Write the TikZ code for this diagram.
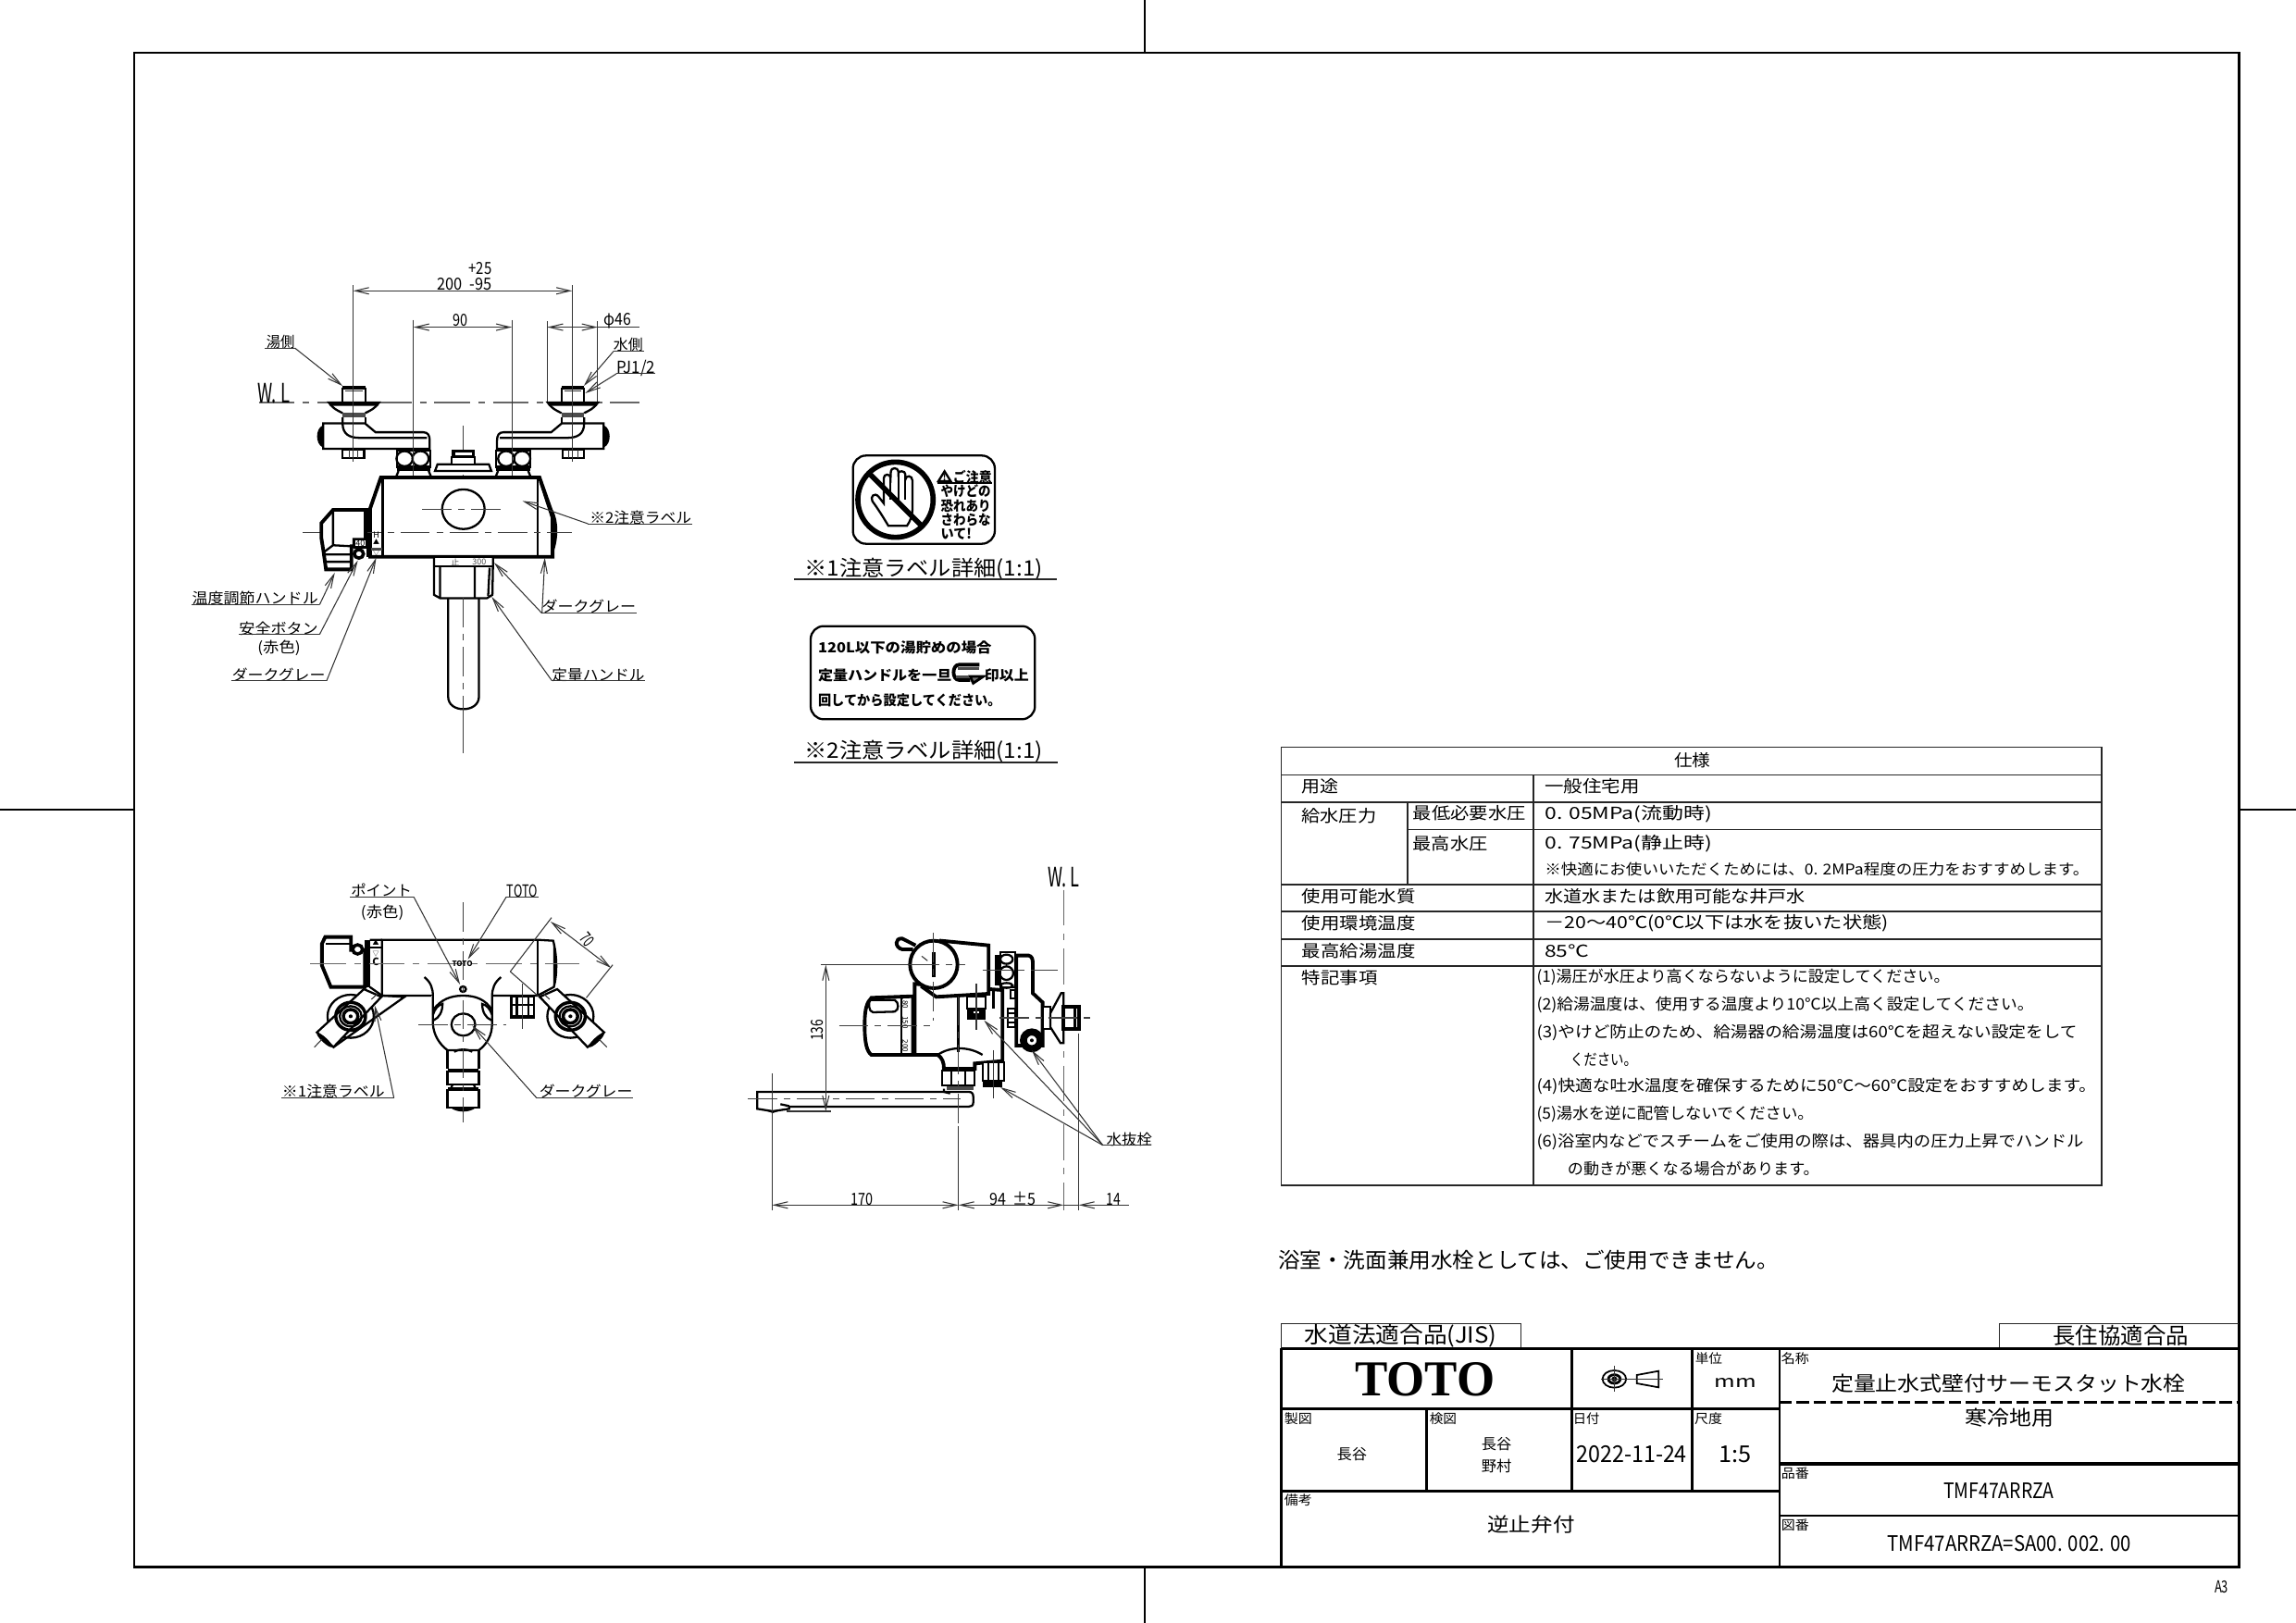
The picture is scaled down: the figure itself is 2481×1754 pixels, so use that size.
\documentclass[tikz,border=0pt]{standalone}
\usepackage{fontspec}
\usepackage{graphicx}
\setmainfont{Noto Sans CJK JP}
\newfontfamily\serifb{Liberation Serif}
\usetikzlibrary{arrows.meta}
\newlength\pxu \setlength\pxu{0.01cm}
\newcounter{tn}
\def\zs{1}
\def\zy{-1.2}
\newcommand\Z[5]{\stepcounter{tn}\pgfmathsetmacro\zw{(#2-#1)*\zs}\node[name=t\arabic{tn},anchor=west,inner sep=0pt,outer sep=0pt,yshift=\zy\pxu] at (#1,#3) {\resizebox{\zw\pxu}{\height}{\fontsize{#4\pxu}{#4\pxu}\selectfont\rule[-.12em]{0pt}{1em}#5}};}
\tikzset{
 thinl/.style={line width=.3pt,black!80},
 outl/.style={line width=.65pt,black},
 heavy/.style={line width=1.1pt,black},
 centl/.style={line width=.3pt,black!75,dash pattern=on 9pt off 2pt on 2pt off 2pt},
 wlin/.style={line width=.45pt,black!60,dash pattern=on 11pt off 2.5pt on 2pt off 2.5pt},
 frm/.style={line width=.85pt,black},
 tb/.style={line width=.4pt,black!85},
 >={Straight Barb[length=4.2pt,width=2pt]}
}
\newcommand\ArmA{%
 \draw[outl,fill=white] (442,553) -- (560,553) -- (590,580) -- (725,580) .. controls (738,580) and (743,590) .. (743,605) -- (743,630) -- (442,630) -- cycle;
 \draw[outl] (497,535) -- (497,553) .. controls (497,585) and (515,597) .. (545,597) -- (735,597);
 \fill (440,560) .. controls (420,570) and (420,615) .. (440,625) -- cycle;
 \draw[outl] (497,632) rectangle (558,658);
 \draw[thinl] (515,632) -- (515,658) (540,632) -- (540,658);
 \draw[outl,fill=black!45] (458,490) -- (600,490) -- (595,497) -- (463,497) -- cycle;
 \draw[outl] (463,497) .. controls (475,510) .. (497,522) (595,497) .. controls (583,510) .. (561,522);
 \fill[black!70] (497,520) rectangle (561,534);
 \draw[outl] (561,535) -- (561,553);
 \draw[outl] (497,490) -- (497,446) (561,490) -- (561,446);
 \draw[heavy] (497,445) -- (561,445);
 \draw[thinl] (505,456) -- (553,456);
 \draw[outl,fill=white] (650,635) rectangle (745,685);
 \draw[outl] (672,660) circle [x radius=23,y radius=23] (717,660) circle [x radius=23,y radius=23];
 \fill (650,685) rectangle (745,697);
 \draw[outl] (655,697) -- (648,715) (740,697) -- (747,715);
}
\newcommand\ArmB{%
 \draw[outl] (557,535) circle [radius=70];
 \draw[outl,fill=white] (597,447) -- (650,472) -- (505,635) -- (455,587) -- cycle;
 \draw[line width=1pt] (557,535) circle [radius=45];
 \draw[outl] (557,535) circle [radius=33];
 \draw[line width=1pt] (557,535) circle [radius=22];
 \fill (557,535) circle [radius=6];
 \fill[rotate around={-45:(478,612)}] (478,612) ellipse [x radius=32,y radius=8];
 \draw[thinl] (447,635) -- (470,610) (620,480) -- (640,460);
}
\begin{document}
\begin{tikzpicture}[x=0.01cm,y=-0.01cm]
\useasboundingbox (0,0) rectangle (2481,1754);
\fill[white] (0,0) rectangle (2481,1754);
% frame
\draw[frm] (145,57) rectangle (2419,1693.5);
\draw[outl] (1237,0) -- (1237,57) (1237,1693.5) -- (1237,1754) (0,875) -- (145,875) (2419,875) -- (2481,875);
\Z{2393}{2408}{1713}{18}{A3}
% ---------- front view
\begin{scope}[shift={(180,260)},xscale=.3827,yscale=.3571]
\def\zs{.3827}
\draw[centl] (838,560) -- (838,1550);
\draw[wlin] (260,490) -- (1335,490);
\draw[thinl] (697,240) -- (697,745) (975,240) -- (975,745);
\draw[thinl] (1075,245) -- (1075,490) (1217,245) -- (1217,490);
\ArmA
\begin{scope}[shift={(1676,0)},xscale=-1]\ArmA\end{scope}
\draw[thinl] (527,135) -- (527,670) (1145,135) -- (1145,670) (697,560) -- (697,745) (975,560) -- (975,745);
\draw[<->,thinl] (527,152) -- (1145,152);
\draw[<->,thinl] (697,262) -- (975,262);
\draw[<->,thinl] (1075,262) -- (1217,262);
\draw[thinl] (1217,262) -- (1335,262);
\Z{853}{918}{80}{18}{+25}
\Z{765}{918}{128}{18}{200 \ -95}
\Z{808}{850}{237}{18}{90}
\Z{1235}{1312}{237}{18}{φ46}
\Z{282}{362}{303}{16}{湯側}
\draw[thinl] (278,325) -- (362,325);\draw[->,thinl] (362,325) -- (497,440);
\Z{1262}{1345}{312}{16}{水側}
\draw[thinl] (1262,335) -- (1347,335);\draw[->,thinl] (1262,335) -- (1178,440);
\Z{1270}{1380}{380}{18}{PJ1/2}
\draw[thinl] (1270,403) -- (1380,403);\draw[->,thinl] (1270,403) -- (1182,462);
\Z{257}{348}{457}{29}{W.\ L}
% top boss
\draw[outl,fill=white] (758,697) -- (765,677) -- (910,677) -- (917,697) -- cycle;
\draw[outl,fill=white] (805,655) rectangle (870,677);
\draw[line width=.9pt,fill=white] (810,637) rectangle (866,655);
% body
\draw[heavy,fill=white] (605,717) -- (1053,717) -- (1090,830) -- (1090,957) -- (575,957) -- (575,810) -- cycle;
\draw[outl] (610,717) -- (610,957) (1048,717) -- (1048,957);
\draw[outl] (1055,730) -- (1088,840) (600,730) -- (575,810);
\fill (1090,815) .. controls (1105,840) and (1110,900) .. (1090,950) -- cycle;
\draw[outl] (838,813) circle [radius=60];
\fill (565,810) rectangle (575,957);
\draw[centl] (722,813) -- (950,813);
\draw[centl] (385,883) -- (1145,883);
\fill[black!70] (577,930) rectangle (610,937);
\node[name=hmark,inner sep=0pt,font=\fontsize{9\pxu}{9\pxu}\selectfont] at (592,892) {H};
\node[name=hm2,inner sep=0pt,font=\fontsize{7\pxu}{7\pxu}\selectfont] at (592,912) {▲};
\node[name=hm3,inner sep=0pt,font=\fontsize{7\pxu}{7\pxu}\selectfont] at (592,948) {▽};
% temp handle
\draw[heavy,fill=white] (470,815) -- (562,815) -- (562,905) -- (530,905) -- (530,925) -- (522,925) -- (522,995) -- (450,995) -- (443,940) -- (437,900) -- (437,855) -- cycle;
\draw[outl] (470,815) -- (470,922) -- (445,942) (470,922) -- (522,925) (447,950) -- (522,950) (449,972) -- (522,972);
\draw[outl,fill=white] (530,905) rectangle (565,928);
\node[name=h40,inner sep=0pt,font=\fontsize{9\pxu}{9\pxu}\selectfont] at (547,916) {40};
\draw[line width=1pt,fill=white] (543,948) circle [radius=13];
% handle
\draw[outl,fill=white] (795,1080) -- (795,1380) .. controls (795,1405) and (815,1418) .. (838,1418) .. controls (861,1418) and (882,1405) .. (882,1380) -- (882,1080) -- cycle;
\draw[outl,fill=white] (755,957) -- (755,1072) -- (772,1082) -- (905,1082) -- (920,1072) -- (922,957) -- cycle;
\draw[outl] (752,985) -- (925,985);
\draw[outl] (772,985) -- (772,1082) (870,985) -- (870,1082) (912,990) -- (908,1075);
\node[name=h5,inner sep=0pt,font=\fontsize{9\pxu}{9\pxu}\selectfont,black!70] at (815,973) {止};
\node[name=h6,inner sep=0pt,font=\fontsize{9\pxu}{9\pxu}\selectfont,black!70] at (883,973) {300};
\draw[centl] (838,1082) -- (838,1550);
% labels
\Z{1195}{1482}{836}{16}{※2注意ラベル}
\draw[thinl] (1190,857) -- (1485,857);\draw[->,thinl] (1190,857) -- (1005,788);
\Z{1060}{1325}{1105}{16}{ダークグレー}
\draw[thinl] (1060,1128) -- (1328,1128);\draw[->,thinl] (1060,1128) -- (925,975);\draw[->,thinl] (1060,1128) -- (1068,960);
\Z{1088}{1350}{1312}{16}{定量ハンドル}
\draw[thinl] (1088,1332) -- (1352,1332);\draw[->,thinl] (1088,1332) -- (918,1078);
\Z{72}{428}{1080}{16}{温度調節ハンドル}
\draw[thinl] (70,1102) -- (432,1102);\draw[->,thinl] (432,1102) -- (475,1005);
\Z{205}{428}{1170}{16}{安全ボタン}
\draw[thinl] (205,1192) -- (432,1192);\draw[->,thinl] (432,1192) -- (540,968);
\Z{257}{378}{1230}{16}{(赤色)}
\Z{185}{448}{1310}{16}{ダークグレー}
\draw[thinl] (182,1332) -- (452,1332);\draw[->,thinl] (452,1332) -- (592,960);
\end{scope}
% ---------- bottom view
\begin{scope}[shift={(180,920)},xscale=.3571,yscale=.3333]
\def\zs{.3571}
\ArmB
\begin{scope}[shift={(1779,0)},xscale=-1]\ArmB\end{scope}
% body
\draw[outl,fill=white] (652,287) -- (1122,287) -- (1170,290) .. controls (1182,340) and (1182,400) .. (1172,440) -- (1122,468) -- (985,468) -- (800,468) -- (652,468) -- cycle;
\draw[outl] (1122,287) -- (1122,468);
\fill (1170,295) .. controls (1182,340) and (1182,400) .. (1170,440) -- cycle;
\draw[outl] (615,287) -- (652,287) (615,440) -- (652,468);
\draw[outl] (652,468) -- (720,472) -- (505,635);
\fill (600,287) rectangle (615,440);
\draw[outl] (617,313) -- (652,313);
\node[name=bvc,inner sep=0pt,font=\bfseries\fontsize{11\pxu}{11\pxu}\selectfont] at (633,357) {C};
\node[name=bva,inner sep=0pt,font=\fontsize{7\pxu}{7\pxu}\selectfont] at (633,295) {▲};
\node[name=bvb,inner sep=0pt,font=\fontsize{7\pxu}{7\pxu}\selectfont] at (633,332) {▽};
% handle
\draw[heavy,fill=white] (480,278) -- (558,278) -- (558,320) -- (600,320) -- (600,440) -- (497,440) -- (470,370) -- (470,300) -- cycle;
\draw[outl] (483,300) -- (556,300);
\draw[line width=1pt,fill=white] (578,318) circle [radius=15];
% centre casting
\fill[white] (800,468) rectangle (985,520);
\draw[outl,fill=white] (780,408) .. controls (800,425) and (806,445) .. (806,470) -- (806,560) .. controls (808,595) and (825,625) .. (850,645) -- (945,645) .. controls (970,625) and (985,595) .. (985,560) -- (985,470) .. controls (985,445) and (992,425) .. (1012,408);
\draw[outl] (806,515) .. controls (830,480) and (860,468) .. (897,468) .. controls (935,468) and (965,480) .. (985,515);
\draw[outl] (806,530) .. controls (812,510) and (822,498) .. (835,495) .. controls (835,520) and (825,540) .. (808,548);
\draw[outl] (985,530) .. controls (978,510) and (968,498) .. (955,495) .. controls (955,520) and (965,540) .. (983,548);
\draw[outl] (870,650) .. controls (885,640) and (910,640) .. (925,650);
\draw[outl] (898,562) circle [radius=36];
\draw[outl,fill=white] (897,447) circle [radius=9];
\draw[outl] (850,645) -- (850,705) (945,645) -- (945,705);
\fill (850,705) rectangle (945,713);
\draw[outl,fill=white] (850,713) rectangle (945,757);
\draw[outl] (865,757) -- (860,770) (930,757) -- (935,770);
\draw[heavy] (852,770) -- (943,770);
\draw[outl,fill=white] (850,775) rectangle (945,832);
\fill (860,832) .. controls (880,848) and (915,848) .. (935,832) -- cycle;
% nut
\draw[outl,fill=white] (1043,472) rectangle (1112,540);
\fill (1043,530) rectangle (1112,540);
\draw[outl] (1060,472) -- (1060,530) (1095,472) -- (1095,530) (1043,498) -- (1112,498);
\draw[outl] (985,468) -- (1122,468);
\draw[centl] (898,165) -- (898,880);
\draw[wlin] (435,365) -- (1250,365);
\draw[centl] (762,562) -- (1028,562);
\draw[thinl] (1076,430) -- (1076,575);
\draw[thinl] (1040,390) -- (1125,470);
\node[name=ttoto,inner sep=0pt,font=\bfseries\fontsize{8\pxu}{8\pxu}\selectfont] at (895,366) {TOTO};
\Z{558}{742}{125}{16}{ポイント}
\draw[thinl] (555,148) -- (748,148);\draw[->,thinl] (748,148) -- (888,432);
\Z{588}{718}{193}{16}{(赤色)}
\Z{1030}{1122}{125}{18}{TOTO}
\draw[thinl] (1028,148) -- (1125,148);\draw[->,thinl] (1028,148) -- (912,350);
\draw[<->,thinl] (1162,228) -- (1345,378);
\draw[thinl] (1165,215) -- (1040,390) (1350,368) -- (1270,475);
\stepcounter{tn}\node[name=t\arabic{tn},rotate=-50,inner sep=0pt,font=\fontsize{18\pxu}{18\pxu}\selectfont] at (1272,287) {\resizebox{13\pxu}{\height}{70}};
\Z{350}{660}{775}{16}{※1注意ラベル}
\draw[thinl] (348,800) -- (688,800);\draw[->,thinl] (688,800) -- (630,500);
\Z{1128}{1410}{775}{16}{ダークグレー}
\draw[thinl] (1120,800) -- (1410,800);\draw[->,thinl] (1120,800) -- (925,565);
\end{scope}
% ---------- side view
\begin{scope}[shift={(790,920)},xscale=.3333,yscale=.3333]
\def\zs{.3333}
\Z{1027}{1130}{78}{29}{W.\ L}
\draw[wlin] (1078,125) -- (1078,1165);
% spout
\draw[outl,fill=white] (85,780) -- (770,780) .. controls (780,780) and (785,785) .. (785,795) -- (785,815) .. controls (785,825) and (778,828) .. (770,828) -- (188,828) -- (188,835) -- (135,843) -- (85,835) -- cycle;
\draw[outl] (160,820) -- (188,826);
\fill (110,840) -- (160,840) -- (135,849) -- cycle;
\draw[outl] (690,770) -- (690,780) -- (710,785);
\fill[black!70] (700,760) rectangle (785,775);
\draw[outl,fill=white] (683,712) rectangle (790,760);
\fill (683,705) rectangle (790,712);
\draw[outl] (715,712) -- (715,760) (760,712) -- (760,760);
% body
\draw[heavy,fill=white] (595,430) -- (595,660) -- (670,660) .. controls (685,670) and (690,685) .. (690,705) -- (790,705) -- (790,688) -- (880,680) -- (880,450) -- cycle;
\draw[outl] (670,660) .. controls (710,632) and (770,632) .. (815,660);
\draw[line width=.9pt] (737,470) -- (737,650);
\draw[line width=.9pt] (850,450) -- (850,510);
% handle upper
\draw[heavy,fill=white] (680,290) -- (835,305) -- (835,462) -- (665,472) -- (620,440) -- cycle;
\draw[heavy,fill=white] (657,367) circle [radius=77];
\fill (652,328) rectangle (662,408);
\draw[thinl] (618,340) -- (637,355);
\draw[heavy,fill=white] (590,318) -- (555,318) .. controls (530,312) and (530,280) .. (555,283) -- (598,305);
% temperature handle
\draw[heavy,fill=white] (590,470) -- (455,475) .. controls (440,490) and (433,510) .. (433,565) .. controls (433,620) and (440,650) .. (455,660) -- (590,660) -- cycle;
\draw[outl] (450,482) -- (530,482) .. controls (545,490) and (545,515) .. (530,520) -- (460,522) .. controls (445,520) and (445,490) .. (450,482);
\draw[outl] (552,470) -- (552,660);
\foreach \yy in {470,490,...,650} {\fill (585,\yy) rectangle (595,\yy+10);}
\node[name=s1,rotate=-90,inner sep=0pt,font=\fontsize{8\pxu}{8\pxu}\selectfont] at (565,490) {180};
\node[name=s2,rotate=-90,inner sep=0pt,font=\fontsize{8\pxu}{8\pxu}\selectfont] at (565,555) {150};
\node[name=s3,rotate=-90,inner sep=0pt,font=\fontsize{8\pxu}{8\pxu}\selectfont] at (565,632) {200};
% right connector
\fill (855,335) rectangle (870,435);
\draw[outl,fill=white] (872,328) rectangle (920,442);
\draw[outl] (893,350) ellipse [x radius=20,y radius=15];
\draw[outl] (893,395) circle [radius=22];
\draw[outl] (893,435) ellipse [x radius=20,y radius=8];
\draw[outl,fill=white] (905,450) rectangle (920,478);
\draw[heavy,fill=white] (925,338) -- (965,338) .. controls (975,340) and (978,350) .. (978,360) -- (978,460) -- (1010,490) -- (1010,630) -- (925,630) -- cycle;
\draw[outl,fill=white] (897,510) rectangle (920,570);
\draw[outl] (897,525) -- (920,525) (897,555) -- (920,555);
\draw[outl,fill=white] (1010,505) rectangle (1035,575);
\draw[outl,fill=white] (1035,525) -- (1070,460) -- (1078,460) -- (1078,622) -- (1068,622) -- (1035,570) -- cycle;
\draw[heavy,fill=white] (1078,505) rectangle (1128,575);
\draw[outl] (1115,505) -- (1115,575);
\draw[heavy,fill=white] (975,613) circle [radius=33];
\draw[line width=1.2pt] (975,613) circle [radius=22];
\fill (975,613) circle [radius=6];
% drains
\draw[outl,fill=white] (765,470) rectangle (825,510);
\fill (765,510) rectangle (825,545);
\draw[white,line width=.6pt] (785,522) -- (805,522);
\draw[outl,fill=white] (815,685) rectangle (885,745);
\draw[outl] (835,685) -- (835,745) (868,685) -- (868,745);
\fill (817,745) rectangle (880,765);
% center lines
\draw[centl] (55,802) -- (745,802);
\draw[centl] (737,470) -- (737,890);
\draw[centl] (350,565) -- (665,565);
\draw[centl] (870,540) -- (1165,540);
\draw[centl] (815,385) -- (1060,385);
\draw[centl] (580,368) -- (760,368);
\draw[centl] (655,265) -- (655,550);
\draw[thinl] (795,430) -- (795,580) (850,645) -- (850,800);
% dims
\draw[thinl] (133,720) -- (133,1165) (737,890) -- (737,1165) (1127,590) -- (1127,1165);
\draw[thinl] (290,368) -- (580,368) (180,843) -- (325,843);
\draw[<->,thinl] (133,1147) -- (737,1147);
\draw[<->,thinl] (737,1147) -- (1078,1147);
\draw[thinl] (1078,1147) -- (1127,1147);
\draw[->,thinl] (1290,1147) -- (1127,1147);
\draw[<->,thinl] (307,368) -- (307,843);
\Z{388}{460}{1122}{18}{170}
\Z{838}{988}{1122}{18}{94 \ ±5}
\Z{1217}{1263}{1122}{18}{14}
\stepcounter{tn}\node[name=t\arabic{tn},rotate=90,inner sep=0pt,font=\fontsize{18\pxu}{18\pxu}\selectfont] at (280,580) {\resizebox{23\pxu}{\height}{136}};
\Z{1217}{1365}{932}{16}{水抜栓}
\draw[thinl] (1205,953) -- (1362,953);
\draw[->,thinl] (1205,953) -- (820,548);
\draw[->,thinl] (1205,953) -- (975,645);
\draw[->,thinl] (1205,953) -- (873,765);
\end{scope}
% ---------- labels
\begin{scope}[shift={(840,470)},xscale=.3333,yscale=.3333]
\def\zs{.3333}
\draw[outl,rounded corners=4pt] (245,67) rectangle (705,353);
\draw[outl,fill=white] (360,295) .. controls (345,270) and (330,245) .. (308,215) .. controls (300,200) and (315,185) .. (328,200) -- (345,222) -- (345,140) .. controls (345,125) and (367,125) .. (367,140) -- (368,118) .. controls (368,105) and (392,105) .. (392,118) -- (392,125) .. controls (392,115) and (415,115) .. (415,128) -- (415,145) .. controls (415,130) and (438,130) .. (438,148) -- (438,235) .. controls (438,265) and (430,280) .. (420,295) -- cycle;
\draw[outl] (367,140) -- (367,210) (392,125) -- (392,210) (415,145) -- (415,210);
\draw[line width=1.6pt] (383,210) circle [radius=122];
\draw[line width=1.6pt] (297,124) -- (469,296);
\draw[outl] (518,157) -- (697,157);
\draw[outl] (522,150) -- (542,118) -- (562,150) -- cycle;
\node[name=ex,inner sep=0pt,font=\bfseries\fontsize{9\pxu}{9\pxu}\selectfont] at (542,138) {!};
\Z{570}{695}{135}{15}{\bfseries ご注意}
\Z{530}{692}{180}{15}{\bfseries やけどの}
\Z{530}{692}{226}{15}{\bfseries 恐れあり}
\Z{530}{692}{272}{15}{\bfseries さわらな}
\Z{530}{630}{318}{15}{\bfseries いて!}
\Z{88}{860}{430}{23}{※1注意ラベル詳細(1:1)}
\draw[tb] (55,468) -- (905,468);
\draw[outl,rounded corners=4pt] (108,620) rectangle (835,922);
\Z{132}{695}{685}{15}{\bfseries 120L以下の湯貯めの場合}
\Z{132}{565}{775}{15}{\bfseries 定量ハンドルを一旦}
\draw[line width=1.1pt] (655,745) -- (590,745) .. controls (565,745) and (565,795) .. (590,795) -- (625,795);
\draw[line width=.8pt,fill=black!55] (625,783) -- (668,783) -- (635,805) -- cycle;
\draw[line width=.8pt,black!70] (585,757) -- (655,757) (580,785) -- (620,785);
\Z{672}{815}{775}{15}{\bfseries 印以上}
\Z{132}{725}{858}{15}{\bfseries 回してから設定してください。}
\Z{88}{860}{1022}{23}{※2注意ラベル詳細(1:1)}
\draw[tb] (55,1062) -- (908,1062);
\end{scope}
% ---------- spec table
\begin{scope}[shift={(1370,801.5)},xscale=.5869,yscale=.3333]
\def\zs{.5869}
\def\zy{3.5}
\draw[tb] (25,18) rectangle (1535,1438);
\draw[tb] (25,108) -- (1535,108) (25,196) -- (1535,196) (257,285) -- (1535,285) (25,463) -- (1535,463) (25,550) -- (1535,550) (25,640) -- (1535,640) (25,728) -- (1535,728);
\draw[tb] (489,108) -- (489,1438) (257,196) -- (257,463);
\Z{748}{815}{72}{18}{仕様}
\Z{62}{130}{155}{18}{用途}
\Z{510}{684}{155}{18}{一般住宅用}
\Z{62}{200}{250}{18}{給水圧力}
\Z{267}{475}{243}{18}{最低必要水圧}
\Z{510}{818}{243}{18}{0. 05MPa(流動時)}
\Z{267}{405}{340}{18}{最高水圧}
\Z{510}{818}{340}{18}{0. 75MPa(静止時)}
\Z{510}{1512}{423}{16}{※快適にお使いいただくためには、0. 2MPa程度の圧力をおすすめします。}
\Z{63}{272}{512}{18}{使用可能水質}
\Z{510}{990}{512}{18}{水道水または飲用可能な井戸水}
\Z{63}{272}{600}{18}{使用環境温度}
\Z{510}{1143}{598}{18}{－20～40℃(0℃以下は水を抜いた状態)}
\Z{63}{272}{688}{18}{最高給湯温度}
\Z{510}{592}{688}{18}{85℃}
\Z{63}{202}{775}{18}{特記事項}
\Z{495}{1255}{772}{17}{(1)湯圧が水圧より高くならないように設定してください。}
\Z{495}{1410}{862}{17}{(2)給湯温度は、使用する温度より10℃以上高く設定してください。}
\Z{495}{1490}{953}{17}{(3)やけど防止のため、給湯器の給湯温度は60℃を超えない設定をして}
\Z{557}{680}{1042}{17}{ください。}
\Z{495}{1525}{1128}{17}{(4)快適な吐水温度を確保するために50℃～60℃設定をおすすめします。}
\Z{495}{1005}{1218}{17}{(5)湯水を逆に配管しないでください。}
\Z{495}{1502}{1308}{17}{(6)浴室内などでスチームをご使用の際は、器具内の圧力上昇でハンドル}
\Z{552}{1015}{1395}{17}{の動きが悪くなる場合があります。}
\end{scope}
\Z{1381}{1922}{1361}{23}{浴室・洗面兼用水栓としては、ご使用できません。}
% ---------- title block
\begin{scope}[shift={(1370,1421)},xscale=.6378,yscale=.3333]
\def\zs{.6378}
\def\zy{1.5}
\draw[tb] (23,108) -- (23,29) -- (429,29) -- (429,108);
\draw[tb] (1239,108) -- (1239,29) -- (1645,29);
\draw[frm] (23,108) -- (1645,108);
\draw[frm] (23,108) -- (23,815);
\draw[frm] (23,304) -- (867,304) (23,571) -- (867,571);
\draw[outl] (269,304) -- (269,571) (515,108) -- (515,571) (719,108) -- (719,571) (867,108) -- (867,815);
\draw[line width=.75pt,dash pattern=on 3.8pt off 1.4pt] (867,283) -- (1645,283);
\draw[line width=1.1pt] (867,482) -- (1645,482);
\draw[outl] (867,650) -- (1645,650);
\Z{62}{388}{70}{24}{水道法適合品(JIS)}
\Z{1330}{1560}{72}{24}{長住協適合品}
\stepcounter{tn}\node[name=t\arabic{tn},inner sep=0pt] at (266,210) {\resizebox{151\pxu}{36\pxu}{\serifb\bfseries TOTO}};
\draw[line width=.5pt] (587,208) ellipse [x radius=20,y radius=28];
\draw[line width=.8pt] (587,208) ellipse [x radius=10,y radius=14];
\fill (587,208) ellipse [x radius=5,y radius=8];
\draw[line width=.5pt] (625,195) -- (662,182) -- (662,235) -- (625,222) -- cycle;
\draw[thinl] (587,165) -- (587,250) (565,208) -- (670,208);
\Z{724}{770}{145}{14}{単位}
\Z{870}{917}{145}{14}{名称}
\Z{28}{75}{340}{14}{製図}
\Z{274}{320}{340}{14}{検図}
\Z{517}{562}{340}{14}{日付}
\Z{723}{770}{340}{14}{尺度}
\Z{28}{75}{605}{14}{備考}
\Z{870}{917}{517}{14}{品番}
\Z{870}{917}{685}{14}{図番}
\Z{757}{828}{218}{18}{mm}
\Z{955}{1555}{228}{22}{定量止水式壁付サーモスタット水栓}
\Z{1182}{1332}{338}{22}{寒冷地用}
\Z{1145}{1332}{575}{23}{TMF47ARRZA}
\Z{1050}{1463}{745}{23}{TMF47ARRZA=SA00. 002. 00}
\Z{117}{168}{455}{16}{長谷}
\Z{362}{413}{423}{16}{長谷}
\Z{362}{413}{495}{16}{野村}
\Z{523}{710}{455}{25}{2022-11-24}
\Z{765}{820}{455}{25}{1:5}
\Z{372}{520}{685}{21}{逆止弁付}
\end{scope}
\end{tikzpicture}
\end{document}
